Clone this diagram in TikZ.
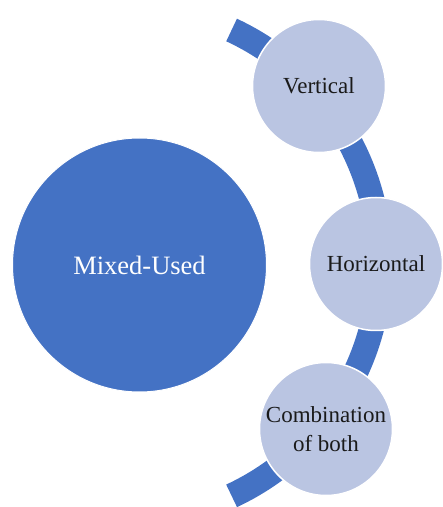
\documentclass[tikz,border=0pt]{standalone}
\usepackage{fontspec}
\setmainfont{Liberation Serif}
\definecolor{mainblue}{HTML}{4472C4}
\definecolor{lightblue}{HTML}{BAC5E2}
\definecolor{txt}{HTML}{1A1A1A}
\begin{document}
\begin{tikzpicture}[x=1pt,y=1pt,
  bigcirc/.style={circle,fill=mainblue,draw=white,line width=1pt,inner sep=0pt,minimum size=254pt,text=white,font=\fontsize{26.5}{30}\selectfont},
  smallcirc/.style={circle,fill=lightblue,draw=white,line width=1.5pt,inner sep=0pt,minimum size=133pt,text=txt,align=center,font=\fontsize{23}{28.5}\selectfont}]
\useasboundingbox (0,0) rectangle (443,507);
% band arc
\draw[mainblue,line width=25pt,line cap=butt] (231.6,477) arc[start angle=65,end angle=-65,radius=257];
\node[bigcirc] (mixed) at (139.5,242) {Mixed-Used};
\node[smallcirc] (vert) at (319,421) {Vertical};
\node[smallcirc] (horiz) at (376,243) {Horizontal};
\node[smallcirc] (comb) at (326,78) {Combination\\of both};
\end{tikzpicture}
\end{document}
